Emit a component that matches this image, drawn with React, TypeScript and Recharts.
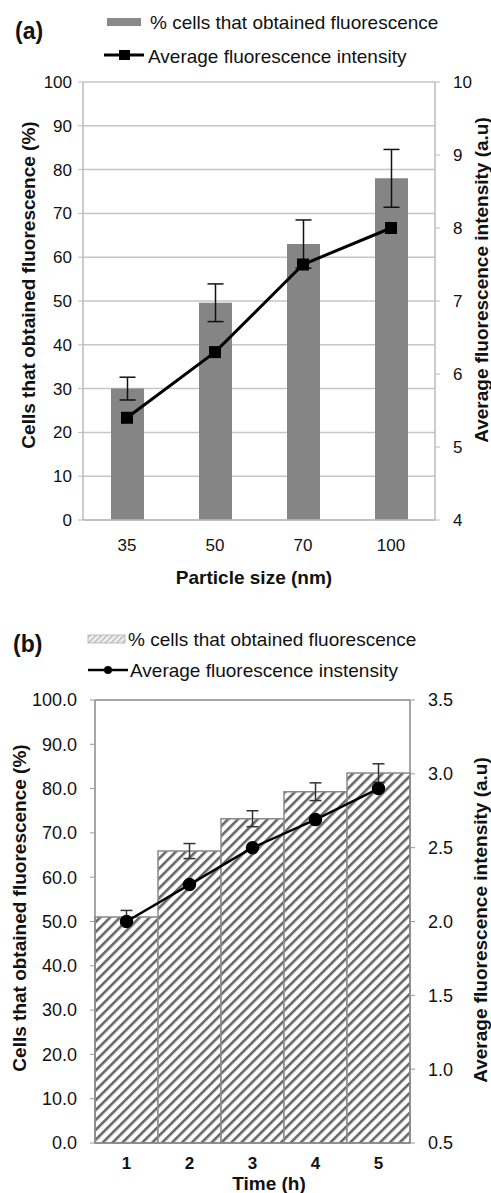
import React from "react";
import {
  ComposedChart,
  Bar,
  Line,
  XAxis,
  YAxis,
  CartesianGrid,
  ErrorBar,
  Legend,
  ReferenceLine,
} from "recharts";

const FONT = '"Liberation Sans", Arial, sans-serif';

// panel (a): particle size
const particleSizes = ["35", "50", "70", "100"];
const cellsBySize = [30, 49.6, 63, 78];
const cellsBySizeErr = [2.6, 4.3, 5.5, 6.6];
const intensityBySize = [5.4, 6.3, 7.5, 8.0];
const pctTicksA = [0, 10, 20, 30, 40, 50, 60, 70, 80, 90, 100];
const intensityTicksA = [4, 5, 6, 7, 8, 9, 10];

// panel (b): time
const hours = ["1", "2", "3", "4", "5"];
const cellsByTime = [51, 65.9, 73.2, 79.3, 83.5];
const cellsByTimeErr = [1.5, 1.7, 1.8, 2.0, 2.1];
const intensityByTime = [2.0, 2.25, 2.5, 2.69, 2.9];
const pctTicksB = [0, 10, 20, 30, 40, 50, 60, 70, 80, 90, 100];
const intensityTicksB = [0.5, 1, 1.5, 2, 2.5, 3, 3.5];

const dataA = particleSizes.map((size, i) => ({
  size,
  cells: cellsBySize[i],
  err: cellsBySizeErr[i],
  intensity: intensityBySize[i],
}));

const dataB = hours.map((time, i) => ({
  time,
  cells: cellsByTime[i],
  err: cellsByTimeErr[i],
  intensity: intensityByTime[i],
}));

const edgesA = particleSizes.map((_, i) => i).concat(particleSizes.length);
const edgesB = hours.map((_, i) => i).concat(hours.length);

function Title({ value, cx, cy, rotate }: any) {
  return (
    <text
      x={cx}
      y={cy}
      transform={rotate ? `rotate(-90 ${cx} ${cy})` : undefined}
      textAnchor="middle"
      dominantBaseline="central"
      fontFamily={FONT}
      fontWeight="bold"
      fontSize={19}
      fill="#111"
    >
      {value}
    </text>
  );
}

function SquareDot({ cx, cy }: any) {
  if (cx == null || cy == null) return null;
  return <rect x={cx - 6} y={cy - 6} width={12} height={12} fill="#000" />;
}

const legendText = { fontFamily: FONT, fontSize: 19, fill: "#111" };

function LegendA() {
  return (
    <svg width={491} height={80} style={{ display: "block" }}>
      <text x={15} y={39} fontFamily={FONT} fontWeight="bold" fontSize={23} fill="#111">
        (a)
      </text>
      <rect x={107} y={18} width={34} height={8} fill="#8a8a8a" />
      <text x={150} y={29} {...legendText}>% cells that obtained fluorescence</text>
      <line x1={104} x2={144} y1={55} y2={55} stroke="#000" strokeWidth={3} />
      <rect x={119} y={50} width={11} height={10} fill="#000" />
      <text x={148} y={63} {...legendText}>Average fluorescence intensity</text>
    </svg>
  );
}

function LegendB() {
  return (
    <svg width={491} height={90} style={{ display: "block" }}>
      <text x={13} y={52} fontFamily={FONT} fontWeight="bold" fontSize={23} fill="#111">
        (b)
      </text>
      <rect x={88} y={35} width={37} height={8} fill="url(#hatchLegend)" stroke="#bbb" />
      <text x={128} y={46} {...legendText}>% cells that obtained fluorescence</text>
      <line x1={88} x2={128} y1={70} y2={70} stroke="#000" strokeWidth={2.5} />
      <circle cx={108} cy={70} r={4} fill="#000" />
      <text x={130} y={77} {...legendText}>Average fluorescence instensity</text>
    </svg>
  );
}

const tickA = { fontFamily: FONT, fontSize: 17, fill: "#111" };
const tickB = { fontFamily: FONT, fontSize: 18, fill: "#111" };

export default function App() {
  return (
    <div style={{ position: "absolute", left: 0, top: 0, width: 491, height: 1193, background: "#fff" }}>
      <svg width={0} height={0} style={{ position: "absolute" }}>
        <defs>
          <pattern id="hatch" patternUnits="userSpaceOnUse" width={7} height={7} patternTransform="rotate(45)">
            <rect x={0} y={0} width={7} height={7} fill="#fff" />
            <rect x={0} y={0} width={2.6} height={7} fill="#666" />
          </pattern>
          <pattern id="hatchLegend" patternUnits="userSpaceOnUse" width={4} height={4} patternTransform="rotate(45)">
            <rect x={0} y={0} width={4} height={4} fill="#f2f2f2" />
            <rect x={0} y={0} width={1.5} height={4} fill="#bbb" />
          </pattern>
        </defs>
      </svg>

      <div style={{ position: "absolute", left: 0, top: 0 }}>
        <ComposedChart width={491} height={600} data={dataA} margin={{ top: 82, right: 0, bottom: 0, left: 0 }}>
          <CartesianGrid vertical={false} stroke="#c6c6c6" strokeWidth={1.5} yAxisId="left" />
          <XAxis
            xAxisId="edges"
            type="number"
            domain={[0, particleSizes.length]}
            ticks={edgesA}
            tick={false}
            axisLine={false}
            tickSize={5}
            stroke="#bbb"
            height={0}
          />
          <XAxis
            dataKey="size"
            height={80}
            tick={tickA}
            tickLine={false}
            tickSize={0}
            tickMargin={19}
            axisLine={{ stroke: "#bbb", strokeWidth: 1.5 }}
            label={<Title value="Particle size (nm)" cx={254} cy={577} />}
          />
          <YAxis
            yAxisId="left"
            width={83}
            domain={[0, 100]}
            ticks={pctTicksA}
            interval={0}
            tick={tickA}
            tickSize={5}
            tickMargin={6}
            stroke="#bbb"
            axisLine={{ stroke: "#bbb", strokeWidth: 1.5 }}
            label={<Title value="Cells that obtained fluorescence (%)" cx={28} cy={285} rotate />}
          />
          <YAxis
            yAxisId="right"
            orientation="right"
            width={56}
            domain={[4, 10]}
            ticks={intensityTicksA}
            interval={0}
            tick={tickA}
            tickSize={5}
            tickMargin={13}
            stroke="#bbb"
            axisLine={{ stroke: "#bbb", strokeWidth: 1.5 }}
            label={<Title value="Average fluorescence intensity (a.u)" cx={481} cy={280} rotate />}
          />
          <Legend
            layout="vertical"
            align="center"
            verticalAlign="middle"
            wrapperStyle={{ top: 0, left: 0, width: 491, height: 80 }}
            content={() => <LegendA />}
          />
          <Bar yAxisId="left" dataKey="cells" fill="#858585" barSize={33} isAnimationActive={false}>
            <ErrorBar dataKey="err" width={8} stroke="#111" strokeWidth={1.5} />
          </Bar>
          <Line
            yAxisId="right"
            dataKey="intensity"
            stroke="#000"
            strokeWidth={3}
            dot={<SquareDot />}
            activeDot={false}
            isAnimationActive={false}
          />
        </ComposedChart>
      </div>

      <div style={{ position: "absolute", left: 0, top: 600 }}>
        <ComposedChart
          width={491}
          height={593}
          data={dataB}
          barCategoryGap={0}
          margin={{ top: 100, right: 0, bottom: 0, left: 0 }}
        >
          <XAxis
            xAxisId="edges"
            type="number"
            domain={[0, hours.length]}
            ticks={edgesB}
            tick={false}
            axisLine={false}
            tickSize={5}
            stroke="#999"
            height={0}
          />
          <XAxis
            dataKey="time"
            height={50}
            tick={{ ...tickB, fontWeight: "bold", fontSize: 17 }}
            tickLine={false}
            tickSize={0}
            tickMargin={14}
            axisLine={{ stroke: "#888", strokeWidth: 1.5 }}
            label={<Title value="Time (h)" cx={269} cy={583} />}
          />
          <YAxis
            yAxisId="left"
            width={95}
            domain={[0, 100]}
            ticks={pctTicksB}
            interval={0}
            tick={tickB}
            tickFormatter={(v: number) => v.toFixed(1)}
            tickSize={5}
            tickMargin={13}
            stroke="#999"
            axisLine={{ stroke: "#888", strokeWidth: 1.5 }}
            label={<Title value="Cells that obtained fluorescence (%)" cx={19} cy={308} rotate />}
          />
          <YAxis
            yAxisId="right"
            orientation="right"
            width={81}
            domain={[0.5, 3.5]}
            ticks={intensityTicksB}
            interval={0}
            tick={tickB}
            tickFormatter={(v: number) => v.toFixed(1)}
            tickSize={5}
            tickMargin={13}
            stroke="#999"
            axisLine={{ stroke: "#888", strokeWidth: 1.5 }}
            label={<Title value="Average fluorescence intensity (a.u)" cx={480} cy={320} rotate />}
          />
          <ReferenceLine yAxisId="left" y={100} stroke="#888" strokeWidth={1.5} />
          <Legend
            layout="vertical"
            align="center"
            verticalAlign="middle"
            wrapperStyle={{ top: 0, left: 0, width: 491, height: 90 }}
            content={() => <LegendB />}
          />
          <Bar
            yAxisId="left"
            dataKey="cells"
            fill="url(#hatch)"
            stroke="#8a8a8a"
            strokeWidth={1.5}
            isAnimationActive={false}
          >
            <ErrorBar dataKey="err" width={6} stroke="#333" strokeWidth={1.5} />
          </Bar>
          <Line
            yAxisId="right"
            dataKey="intensity"
            stroke="#000"
            strokeWidth={2.5}
            dot={{ r: 5.5, fill: "#000", stroke: "#000" }}
            activeDot={false}
            isAnimationActive={false}
          />
        </ComposedChart>
      </div>
    </div>
  );
}
